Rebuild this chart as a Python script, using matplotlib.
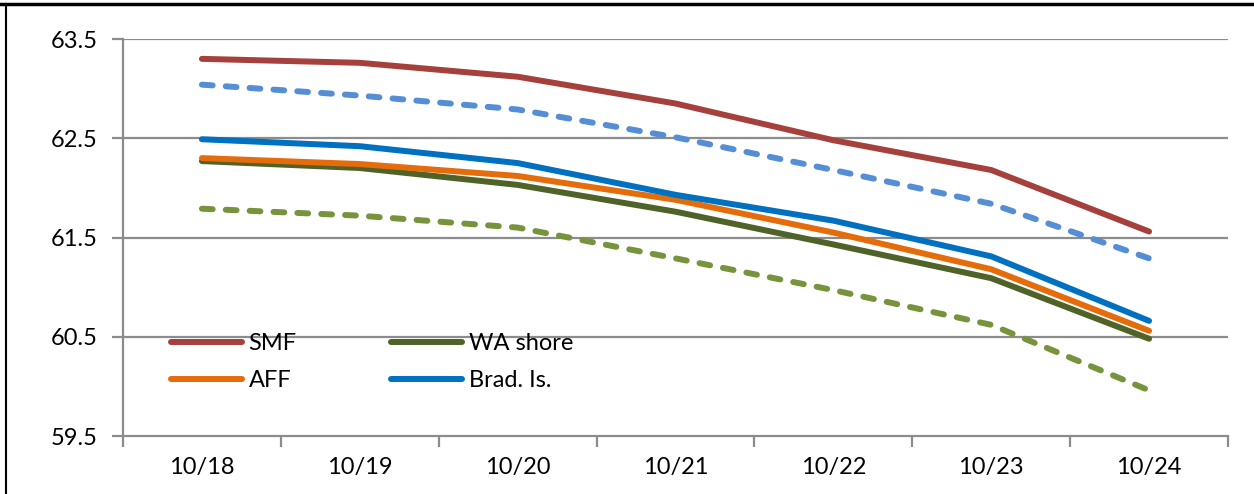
import matplotlib.pyplot as plt
from matplotlib.lines import Line2D
import numpy as np

plt.rcParams['font.family'] = ['Lato', 'DejaVu Sans']

months = ['10/18', '10/19', '10/20', '10/21', '10/22', '10/23', '10/24']
smf = [63.30, 63.26, 63.12, 62.85, 62.48, 62.18, 61.56]
smf_dash = [63.04, 62.93, 62.79, 62.51, 62.18, 61.84, 61.29]
brad = [62.49, 62.42, 62.25, 61.93, 61.67, 61.31, 60.66]
aff = [62.30, 62.24, 62.12, 61.88, 61.55, 61.18, 60.56]
wa = [62.27, 62.20, 62.03, 61.76, 61.43, 61.09, 60.48]
wa_dash = [61.79, 61.72, 61.60, 61.29, 60.97, 60.62, 59.96]

x = np.arange(len(months))
lw = 4.3
fs = 17

fig = plt.figure(figsize=(12.54, 4.94), dpi=100)
ax = fig.add_axes([123 / 1254, 1 - 436 / 494, (1228 - 123) / 1254, (436 - 39) / 494])

grid_col = '#8c8c8c'
for v in [60.5, 61.5, 62.5, 63.5]:
    ax.axhline(v, color=grid_col, lw=1.6, zorder=1)

ax.plot(x, smf_dash, color='#558ED5', lw=lw, ls=(0, (1.8, 2.2)), dash_capstyle='round', zorder=3)
ax.plot(x, wa_dash, color='#77933C', lw=lw, ls=(0, (1.8, 2.2)), dash_capstyle='round', zorder=3)
l_smf, = ax.plot(x, smf, color='#A5403D', lw=lw, solid_capstyle='round', zorder=4)
l_wa, = ax.plot(x, wa, color='#4F6228', lw=lw, solid_capstyle='round', zorder=4)
l_aff, = ax.plot(x, aff, color='#E46C0A', lw=lw, solid_capstyle='round', zorder=5)
l_brad, = ax.plot(x, brad, color='#0070C0', lw=lw, solid_capstyle='round', zorder=5)

ax.set_xlim(-0.5, len(months) - 0.5)
ax.set_ylim(59.5, 63.5)
ax.set_yticks([59.5, 60.5, 61.5, 62.5, 63.5])
ax.set_yticklabels(['59.5', '60.5', '61.5', '62.5', '63.5'], fontsize=fs)
ax.set_xticks(np.arange(len(months) + 1) - 0.5)
ax.set_xticklabels([])
ax.set_xticks(x, minor=True)
ax.set_xticklabels(months, minor=True, fontsize=fs)
ax.tick_params(axis='x', which='minor', length=0, pad=15)
ax.tick_params(axis='x', which='major', length=8, width=1.6, color=grid_col)
ax.tick_params(axis='y', length=8, width=1.6, color=grid_col, pad=10)

for s in ['top', 'right']:
    ax.spines[s].set_visible(False)
for s in ['left', 'bottom']:
    ax.spines[s].set_color(grid_col)
    ax.spines[s].set_linewidth(1.6)

ax.legend([l_smf, l_aff, l_wa, l_brad], ['SMF', 'AFF', 'WA shore', 'Brad. Is.'],
          ncol=2, loc='lower left', bbox_to_anchor=(0.024, 0.06), frameon=False,
          fontsize=fs, handlelength=3.0, columnspacing=4.0, labelspacing=0.66,
          handletextpad=0.3)

# frame remnants from the original figure crop
fig.add_artist(Line2D([0, 1], [1 - 4 / 494] * 2, color='black', lw=2.5, transform=fig.transFigure))
fig.add_artist(Line2D([6 / 1254] * 2, [0, 1 - 4 / 494], color='black', lw=1.5, transform=fig.transFigure))

fig.savefig('out.png', dpi=100)
